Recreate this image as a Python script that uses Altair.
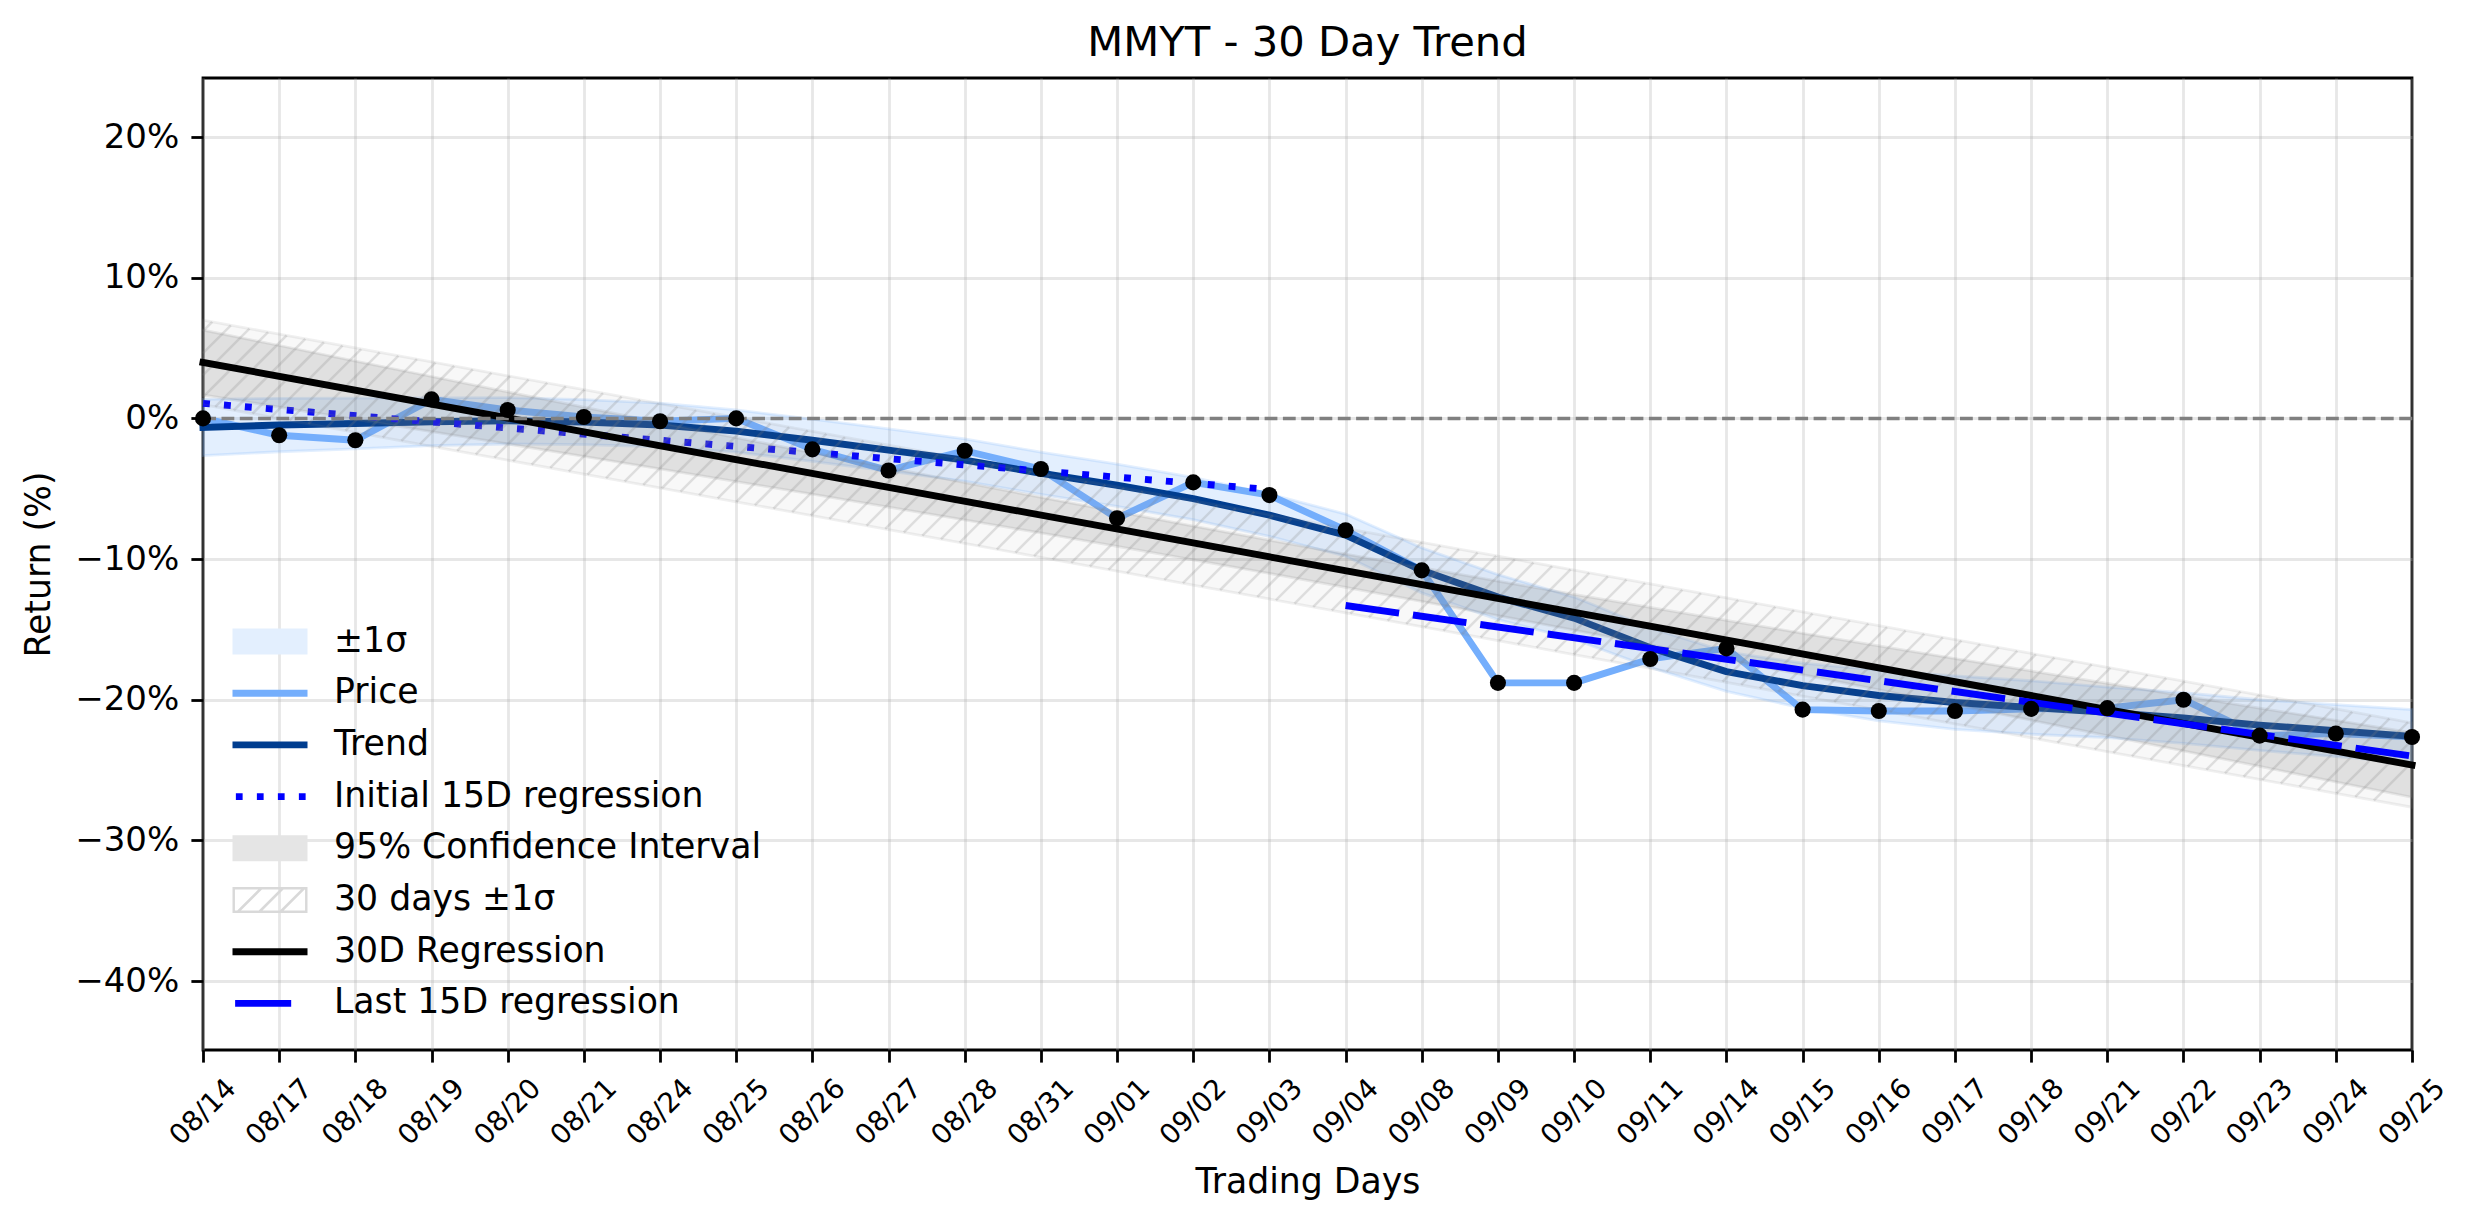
import altair as alt
import pandas as pd
import numpy as np

# ---------------- data ----------------
DATES = ["08/14", "08/17", "08/18", "08/19", "08/20", "08/21", "08/24", "08/25",
         "08/26", "08/27", "08/28", "08/31", "09/01", "09/02", "09/03", "09/04",
         "09/08", "09/09", "09/10", "09/11", "09/14", "09/15", "09/16", "09/17",
         "09/18", "09/21", "09/22", "09/23", "09/24", "09/25"]

PRICE = [0.0, -1.2, -1.55, 1.35, 0.6, 0.1, -0.2, 0.0, -2.2, -3.7,
         -2.3, -3.6, -7.1, -4.55, -5.45, -7.95, -10.8, -18.8, -18.8, -17.1,
         -16.35, -20.7, -20.8, -20.8, -20.65, -20.6, -20.0, -22.55, -22.4, -22.65]

TREND = [-0.64, -0.47, -0.36, -0.24, -0.17, -0.26, -0.47, -0.9, -1.55, -2.25,
         -2.96, -3.9, -4.75, -5.7, -6.88, -8.3, -10.8, -12.7, -14.2, -16.3,
         -18.0, -19.0, -19.7, -20.2, -20.55, -20.9, -21.3, -21.8, -22.2, -22.6]

SIGMA = [2.0, 1.9, 1.8, 1.7, 1.65, 1.6, 1.55, 1.5, 1.5, 1.5,
         1.5, 1.5, 1.5, 1.5, 1.5, 1.5, 1.6, 1.6, 1.5, 1.4,
         1.4, 1.6, 1.8, 1.9, 1.9, 1.8, 1.8, 1.8, 1.85, 1.9]

REG_IDX = [0, 29]
REG_30D = [3.98, -24.64]
CI_HALF = [2.30, 2.19, 2.07, 1.96, 1.85, 1.75, 1.65, 1.56, 1.47, 1.40,
           1.33, 1.27, 1.23, 1.20, 1.18, 1.18, 1.20, 1.23, 1.27, 1.33,
           1.40, 1.47, 1.56, 1.65, 1.75, 1.85, 1.96, 2.07, 2.19, 2.30]
BAND_30D = 3.0

INIT_IDX = [0, 14]
INIT_15D = [1.07, -5.05]
LAST_IDX = [15, 29]
LAST_15D = [-13.3, -24.0]

Y_TICKS = [-40, -30, -20, -10, 0, 10, 20]

LEGEND_LABELS = ["±1σ", "Price", "Trend", "Initial 15D regression",
                 "95% Confidence Interval", "30 days ±1σ", "30D Regression",
                 "Last 15D regression"]

# ---------------- styles ----------------
FONT = "DejaVu Sans"
PRICE_C = "#74AEFC"
TREND_C = "#003D8F"
BLUE = "#0000FF"
W, H = 2209, 972
Y_DOM = [-44.9, 24.2]
X_DOM = [0, 29]
LW = 6.9

LEGEND_COLORS = ["#E3EFFE", PRICE_C, TREND_C, BLUE, "#E5E5E5", "#D9D9D9", "#000000", BLUE]
SW = "M-2,-0.69H2V0.69H-2Z"
LN = "M-2,-0.185H2V0.185H-2Z"
DOT = ("M-1.82,-0.18H-1.46V0.18H-1.82Z M-0.70,-0.18H-0.34V0.18H-0.70Z "
       "M0.42,-0.18H0.78V0.18H0.42Z M1.54,-0.18H1.90V0.18H1.54Z")
DASH = "M-1.86,-0.18H1.13V0.18H-1.86Z"
HATCH = "M-2,-0.69H2V0.69H-2Z M-1.87,-0.56V0.56H1.87V-0.56Z"
for b in (-1.75, -0.6, 0.53):
    HATCH += f" M{b},0.56L{b + 0.2:.2f},0.56L{b + 1.32:.2f},-0.56L{b + 1.12:.2f},-0.56Z"
LEGEND_SHAPES = [SW, LN, LN, DOT, SW, HATCH, LN, DASH]

# ---------------- tables ----------------
idx = list(range(len(DATES)))
main = pd.DataFrame({"i": idx, "price": PRICE, "trend": TREND, "sigma": SIGMA, "ci": CI_HALF})
main["s_lo"] = main["trend"] - main["sigma"]
main["s_hi"] = main["trend"] + main["sigma"]
reg_a = REG_30D[0]
reg_b = (REG_30D[1] - REG_30D[0]) / (REG_IDX[1] - REG_IDX[0])
main["reg"] = reg_a + reg_b * main["i"]
main["ci_lo"] = main["reg"] - main["ci"]
main["ci_hi"] = main["reg"] + main["ci"]
main["b_lo"] = main["reg"] - BAND_30D
main["b_hi"] = main["reg"] + BAND_30D

reg_df = pd.DataFrame({"i": REG_IDX, "v": REG_30D})
init_df = pd.DataFrame({"i": INIT_IDX, "v": INIT_15D})
last_df = pd.DataFrame({"i": LAST_IDX, "v": LAST_15D})
zero_df = pd.DataFrame({"v": [0]})

# hatch strokes (45 degree in pixel space) inside the 30-day band
px_day = W / (X_DOM[1] - X_DOM[0])
px_pct = H / (Y_DOM[1] - Y_DOM[0])
s = px_day / px_pct
step = s * (22.0 / px_day)
rows = []
for k in np.arange(reg_a - BAND_30D - s * 30 - 20, reg_a + BAND_30D + 20, step):
    x_lo = (reg_a - BAND_30D - k) / (s - reg_b)
    x_hi = (reg_a + BAND_30D - k) / (s - reg_b)
    x0 = max(x_lo, X_DOM[0])
    x1 = min(x_hi, X_DOM[1])
    if x1 <= x0:
        continue
    rows.append({"x": x0, "y": k + s * x0, "x2": x1, "y2": k + s * x1})
hatch_df = pd.DataFrame(rows)

legend_df = pd.DataFrame({"series": LEGEND_LABELS, "i": [0] * 8, "v": [PRICE[0]] * 8})

# ---------------- axes / scales ----------------
x_label_expr = "[" + ",".join(f"'{d}'" for d in DATES) + "][datum.value]"
X_AXIS = alt.Axis(values=idx, labelExpr=x_label_expr, labelAngle=-45, labelAlign="center",
                  labelBaseline="middle", labelFontSize=27.8, labelPadding=50,
                  labelOverlap=False, labelBound=False, labelFlush=False,
                  tickSize=12.1, tickWidth=2.8, tickColor="black", domain=False,
                  grid=True, gridColor="#b0b0b0", gridOpacity=0.3, gridWidth=2.8,
                  title="Trading Days", titleFontSize=34.7, titleFontWeight="normal",
                  titleX=W / 2, titleY=142.5, titleAlign="center", titleBaseline="alphabetic",
                  labelColor="black", titleColor="black")
Y_AXIS = alt.Axis(values=Y_TICKS,
                  labelExpr="replace(format(datum.value, 'd'), '-', '\u2212') + '%'",
                  labelFontSize=34, labelPadding=12.1, tickSize=12.1, tickWidth=2.8,
                  tickColor="black", domain=False, grid=True, gridColor="#b0b0b0",
                  gridOpacity=0.3, gridWidth=2.8, title="Return (%)", titleFontSize=34.7,
                  titleFontWeight="normal", titleAngle=-90, titleX=-163.5, titleY=H / 2,
                  titleAlign="center", titleBaseline="middle", labelColor="black",
                  titleColor="black")
XS = alt.Scale(domain=X_DOM, nice=False, zero=False)
YS = alt.Scale(domain=Y_DOM, nice=False, zero=False)


def X(f):
    return alt.X(f, type="quantitative", scale=XS, axis=X_AXIS)


def Y(f):
    return alt.Y(f, type="quantitative", scale=YS, axis=Y_AXIS)


base = alt.Chart(main)

sigma_band = base.mark_area(color=PRICE_C, fillOpacity=0.2, stroke=PRICE_C,
                            strokeOpacity=0.2, strokeWidth=2.8).encode(
    x=X("i"), y=Y("s_lo"), y2="s_hi")
price_line = base.mark_line(color=PRICE_C, strokeWidth=LW, strokeJoin="round",
                            strokeCap="square").encode(x=X("i"), y=Y("price"))
trend_line = base.mark_line(color=TREND_C, strokeWidth=LW, strokeJoin="round",
                            strokeCap="square").encode(x=X("i"), y=Y("trend"))
init_line = alt.Chart(init_df).mark_line(color=BLUE, strokeWidth=LW, strokeDash=[6.9, 14.1],
                                         strokeCap="butt").encode(x=X("i"), y=Y("v"))
ci_band = base.mark_area(color="gray", fillOpacity=0.2, stroke="gray", strokeOpacity=0.15,
                         strokeWidth=2.8).encode(x=X("i"), y=Y("ci_lo"), y2="ci_hi")
band30 = base.mark_area(color="gray", fillOpacity=0.06, stroke="gray", strokeOpacity=0.12,
                        strokeWidth=2.8).encode(x=X("i"), y=Y("b_lo"), y2="b_hi")
hatch = alt.Chart(hatch_df).mark_rule(color="gray", opacity=0.22, strokeWidth=2.5).encode(
    x=X("x"), y=Y("y"), x2="x2", y2="y2")
reg_line = alt.Chart(reg_df).mark_line(color="black", strokeWidth=LW,
                                       strokeCap="square").encode(x=X("i"), y=Y("v"))
last_line = alt.Chart(last_df).mark_line(color=BLUE, strokeWidth=LW, strokeDash=[54, 14],
                                         strokeCap="butt").encode(x=X("i"), y=Y("v"))
zero_line = alt.Chart(zero_df).mark_rule(color="gray", strokeWidth=3.5,
                                         strokeDash=[12.8, 5.5]).encode(y=Y("v"))
dots = base.mark_circle(color="black", size=260, opacity=1).encode(x=X("i"), y=Y("price"))

LEG = dict(orient="none", legendX=48, legendY=544.5, title=None, symbolSize=1406.25,
           symbolStrokeWidth=0, symbolOpacity=1, labelFontSize=34.7, labelFont=FONT,
           labelOffset=45, rowPadding=15.7, labelColor="black", labelLimit=1000,
           padding=0, offset=0)
legend_pts = alt.Chart(legend_df).mark_point(filled=True, opacity=0).encode(
    x=X("i"), y=Y("v"),
    color=alt.Color("series:N", scale=alt.Scale(domain=LEGEND_LABELS, range=LEGEND_COLORS),
                    legend=alt.Legend(**LEG)),
    shape=alt.Shape("series:N", scale=alt.Scale(domain=LEGEND_LABELS, range=LEGEND_SHAPES),
                    legend=alt.Legend(**LEG)),
)

chart = alt.layer(
    sigma_band, price_line, trend_line, init_line, ci_band, band30, hatch,
    reg_line, last_line, zero_line, dots, legend_pts
).properties(
    width=W, height=H,
    title=alt.TitleParams(text="MMYT - 30 Day Trend", fontSize=41.7, fontWeight="normal",
                          font=FONT, anchor="middle", offset=19.5, dy=39.5,
                          baseline="alphabetic", color="black"),
    autosize=alt.AutoSizeParams(type="none"),
    padding={"left": 195, "top": 70, "right": 54, "bottom": 150},
).configure(font=FONT, background="white").configure_view(
    stroke="black", strokeWidth=2.8
).configure_axis(labelFont=FONT, titleFont=FONT)

chart.save("out.html", embed_options={"renderer": "svg", "actions": False})
